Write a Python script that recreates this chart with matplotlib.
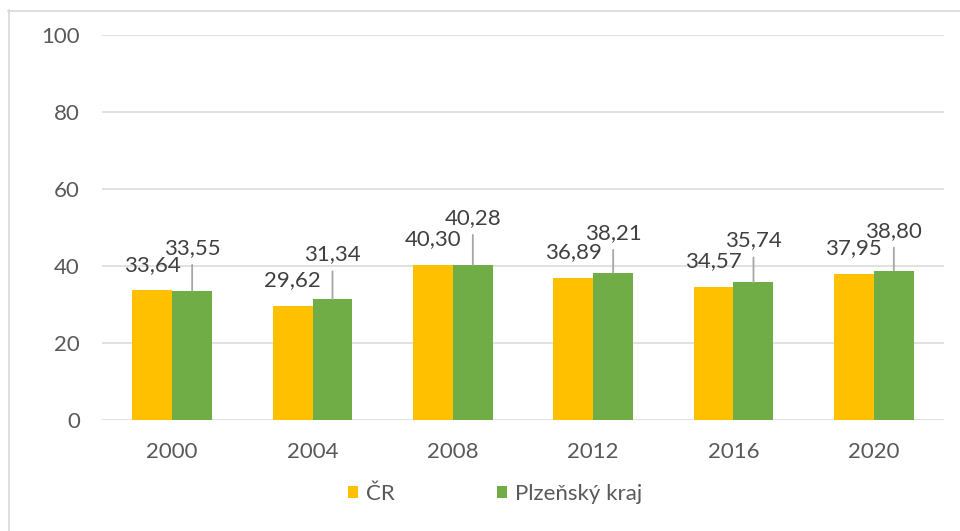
import matplotlib
matplotlib.use("Agg")
import matplotlib.pyplot as plt
from matplotlib.patches import Patch
from matplotlib.lines import Line2D
import numpy as np

years = ["2000", "2004", "2008", "2012", "2016", "2020"]
cr = [33.64, 29.62, 40.30, 36.89, 34.57, 37.95]
plzen = [33.55, 31.34, 40.28, 38.21, 35.74, 38.80]
cr_labels = ["33,64", "29,62", "40,30", "36,89", "34,57", "37,95"]
plzen_labels = ["33,55", "31,34", "40,28", "38,21", "35,74", "38,80"]
yticks = [0, 20, 40, 60, 80, 100]

# label offsets (pixels above bar top) – styling
cr_off = [25, 26, 26, 26, 26, 26]
pl_off = [43, 45, 47, 40, 42, 40]

plt.rcParams['font.family'] = ['Lato', 'DejaVu Sans']
FS = 16
W, H = 960, 531
fig = plt.figure(figsize=(W / 100, H / 100), dpi=100)
fig.patch.set_facecolor("white")

# chart border (top and left visible)
fig.add_artist(Line2D([8 / W, 1], [1 - 10.5 / H, 1 - 10.5 / H], color="#d9d9d9", lw=1.2))
fig.add_artist(Line2D([8.5 / W, 8.5 / W], [0, 1 - 10 / H], color="#d9d9d9", lw=1.2))

ax = fig.add_axes([102 / W, (H - 420) / H, (944 - 102) / W, (420 - 35) / H])
x = np.arange(len(years))
bw = 0.285
yellow = "#FFC000"
green = "#70AD47"
ax.bar(x - bw / 2, cr, bw, color=yellow, zorder=3)
ax.bar(x + bw / 2, plzen, bw, color=green, zorder=3)

ax.set_ylim(0, 100)
ax.set_xlim(-0.5, len(years) - 0.5)
ax.set_yticks(yticks)
ax.set_yticklabels([str(t) for t in yticks])
ax.set_xticks(x)
ax.set_xticklabels(years)
ax.grid(axis="y", color="#d9d9d9", lw=1.1, zorder=0)
ax.set_axisbelow(True)
for s in ax.spines.values():
    s.set_visible(False)
ax.tick_params(axis="both", length=0, labelsize=FS, labelcolor="#595959", pad=16)

lab_col = "#404040"
for i in range(len(years)):
    xc = x[i] - bw / 2
    ax.annotate(cr_labels[i], xy=(xc, cr[i]), xytext=(0, cr_off[i]), textcoords="offset pixels",
                ha="center", va="center", fontsize=FS, color=lab_col, zorder=5)
    xg = x[i] + bw / 2
    ax.annotate(plzen_labels[i], xy=(xg, plzen[i]), xytext=(0, pl_off[i]), textcoords="offset pixels",
                ha="center", va="center", fontsize=FS, color=lab_col, zorder=5)
    ax.annotate("", xy=(xg, plzen[i]), xytext=(0, pl_off[i] - 17), textcoords="offset pixels",
                arrowprops=dict(arrowstyle="-", color="#a6a6a6", lw=1.3, shrinkA=0, shrinkB=0), zorder=4)

handles = [Patch(facecolor=yellow, edgecolor="none", label="ČR"),
           Patch(facecolor=green, edgecolor="none", label="Plzeňský kraj")]
fig.legend(handles=handles, loc="center", bbox_to_anchor=(495 / W, 1 - 494 / H), ncol=2,
           frameon=False, fontsize=FS, labelcolor="#595959", handlelength=0.45, handleheight=0.45,
           handletextpad=0.36, columnspacing=4.6)

fig.savefig("out.png", dpi=100)
